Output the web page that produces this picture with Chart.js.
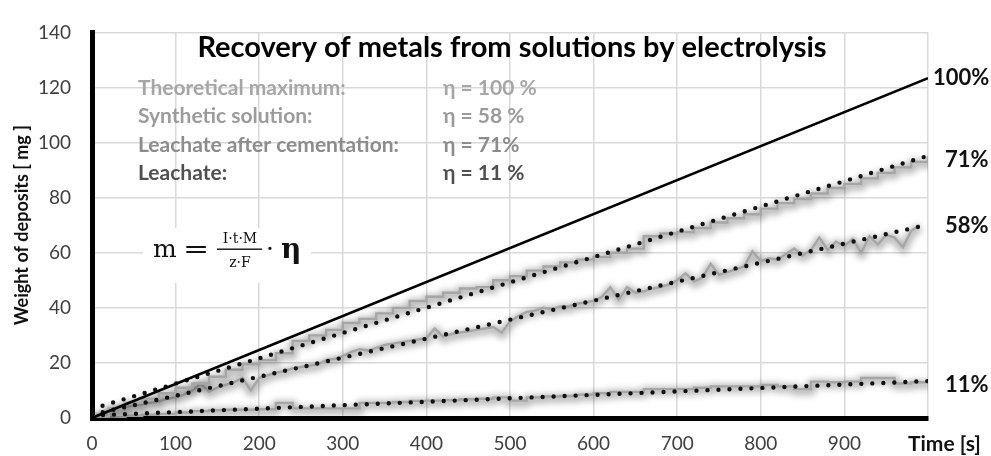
<!doctype html>
<html lang="en">
<head>
  <meta charset="utf-8">
  <title>Recovery of metals from solutions by electrolysis</title>
  <script src="https://cdn.jsdelivr.net/npm/chart.js"></script>
  <style>
    body { margin: 0; background: #fff; }
    #wrap { width: 991px; height: 456px; position: relative; }
  </style>
</head>
<body>
<div id="wrap"><canvas id="recoveryChart"></canvas></div>
<script>
  // time [s]
  var timeCoarse = [0,20,40,60,80,100,120,140,160,180,200,220,240,260,280,300,320,340,360,380,
    400,420,440,460,480,500,520,540,560,580,600,620,640,660,680,700,720,740,760,780,
    800,820,840,860,880,900,920,940,960,980,1000];
  var timeFine = [0,10,20,30,40,50,60,70,80,90,100,110,120,130,140,150,160,170,180,190,
    200,210,220,230,240,250,260,270,280,290,300,310,320,330,340,350,360,370,380,390,
    400,410,420,430,440,450,460,470,480,490,500,510,520,530,540,550,560,570,580,590,
    600,610,620,630,640,650,660,670,680,690,700,710,720,730,740,750,760,770,780,790,
    800,810,820,830,840,850,860,870,880,890,900,910,920,930,940,950,960,970,980,990];

  // measured weight of deposits [mg]
  var cementationMass = [0.5,3.5,5.5,7,9,11,12.5,15,17.5,19.5,21,23.5,28,30,32,34.5,36,38,40,42.5,
    44,45.5,47,47.5,50,51.5,53.5,55,56.5,57.5,58.5,60,61.5,66,67,67.5,69,71,72.5,74,
    76,78,79.5,81.5,83.5,85,87,89,91,93,95];
  var syntheticMass = [0,1.5,2.5,3.5,4,4.5,5,5.5,6,7,
    7.5,8.5,10,12.5,9.5,11,12,13,14.5,10,
    14.5,15.5,16.5,17,18,18.5,19,19.5,21,21.5,
    22.5,24,25,24.5,25.5,26.5,27,27.5,28,28.5,
    29,32.5,29.5,30.5,31,31.5,32,32.5,33,31,
    35,37,38.5,39,40,39.5,40.5,40.5,41.5,42,
    42.5,44,47.5,43,47.5,45.5,46,47,47.5,48.5,
    50,52.5,49.5,51,56,52,53,54,55,60.5,
    57,58,57.5,59.5,61.5,59,61,65.5,61,64,
    62.5,65,60,66,63,66.5,65.5,62,68,70];
  var leachateMass = [0,0.3,0.8,1.2,1.5,2,2.5,2.8,3,3,
    3.2,5.5,3.5,3.5,3.5,3.5,5.5,5.5,5.8,6.2,
    6.3,6.5,6.8,7,7.5,6.3,7.5,7.8,8,8.5,
    9,9.5,9.5,10.5,10.5,10.5,11,11.5,11.5,11.5,
    12,11.5,10.5,13.2,13,13.2,14.5,14.5,12.5,13,
    13.4];

  // linear trends
  var trendTime = [0, 1000];
  var theoreticalMass = [0, 123.4];
  var cementationTrend = [3.3, 95.2];
  var syntheticTrend = [1.2, 70.2];
  var leachateTrend = [0.9, 13.4];

  var yTicks = [0,20,40,60,80,100,120,140];
  var xTicks = [0,100,200,300,400,500,600,700,800,900,1000];
  var xTickLabels = ['0','100','200','300','400','500','600','700','800','900','Time [s]'];

  var legendNames = ['Theoretical maximum:', 'Synthetic solution:', 'Leachate after cementation:', 'Leachate:'];
  var legendEta = ['η = 100 %', 'η = 58 %', 'η = 71%', 'η = 11 %'];
  var endLabels = ['100%', '71%', '58%', '11%'];
  var endValues = [123.4, 95.2, 70.2, 13.4];

  function pts(xs, ys) {
    return ys.map(function (v, i) { return { x: xs[i], y: v }; });
  }

  var LATO = 'Lato, "Open Sans", sans-serif';

  // soft grey halo under the measured curves
  const glowPlugin = {
    id: 'glow',
    beforeDatasetDraw(chart, args) {
      const ds = chart.data.datasets[args.index];
      if (!ds.glow) return;
      const ctx = chart.ctx;
      const area = chart.chartArea;
      const points = args.meta.data;
      ctx.save();
      ctx.beginPath();
      ctx.rect(area.left, area.top, area.right - area.left, area.bottom - area.top);
      ctx.clip();
      ctx.filter = 'blur(3px)';
      ctx.translate(0.5, 2);
      ctx.beginPath();
      points.forEach(function (p, i) {
        if (i === 0) { ctx.moveTo(p.x, p.y); return; }
        if (ds.stepped) ctx.lineTo(p.x, points[i - 1].y);
        ctx.lineTo(p.x, p.y);
      });
      ctx.lineWidth = 9;
      ctx.lineJoin = 'round';
      ctx.strokeStyle = 'rgba(0,0,0,0.26)';
      ctx.stroke();
      ctx.restore();
    }
  };

  const overlayPlugin = {
    id: 'overlay',
    beforeDatasetsDraw(chart) {
      const ctx = chart.ctx;
      ctx.save();
      // formula box
      ctx.fillStyle = '#fff';
      ctx.fillRect(143, 228, 168, 55);
      ctx.fillStyle = '#111';
      ctx.textBaseline = 'alphabetic';
      ctx.textAlign = 'left';
      ctx.font = '25px "DejaVu Serif"';
      ctx.fillText('m', 153, 257);
      ctx.save();
      ctx.translate(183, 257);
      ctx.scale(1.25, 1);
      ctx.fillText('=', 0, 0);
      ctx.restore();
      ctx.font = '14px "DejaVu Serif"';
      ctx.textAlign = 'center';
      ctx.fillText('I·t·M', 240, 243);
      ctx.fillText('z·F', 240, 267);
      ctx.fillRect(217, 248.5, 45, 1.4);
      ctx.textAlign = 'left';
      ctx.font = '25px "DejaVu Serif"';
      ctx.fillText('·', 266, 257);
      ctx.font = 'bold 28px "DejaVu Serif"';
      ctx.fillText('η', 281, 258);
      ctx.restore();
    },
    afterDraw(chart) {
      const ctx = chart.ctx;
      const area = chart.chartArea;
      const y = chart.scales.y;
      ctx.save();
      ctx.textBaseline = 'middle';
      ctx.fillStyle = '#000';
      ctx.textAlign = 'center';
      ctx.font = 'bold 29px ' + LATO;
      ctx.fillText('Recovery of metals from solutions by electrolysis', (area.left + area.right) / 2 + 2, 48);

      var rowColors = ['#a6a6a6', '#9b9b9b', '#8c8c8c', '#505050'];
      ctx.textAlign = 'left';
      ctx.font = 'bold 21px ' + LATO;
      legendNames.forEach(function (name, i) {
        ctx.fillStyle = rowColors[i];
        var ry = 88 + i * 28.5;
        ctx.fillText(name, 138, ry);
        ctx.fillText(legendEta[i], 443, ry);
      });

      ctx.fillStyle = '#111';
      ctx.font = 'bold 22px ' + LATO;
      var dy = [0, 4, 1, 4];
      endLabels.forEach(function (lab, i) {
        var lx = i === 0 ? area.right + 5 : area.right + 17;
        ctx.fillText(lab, lx, y.getPixelForValue(endValues[i]) + dy[i]);
      });

      ctx.font = 'bold 21px ' + LATO;
      ctx.fillStyle = '#111';
      ctx.fillText(xTickLabels[xTickLabels.length - 1], area.right - 20, 444);
      ctx.restore();
    }
  };

  const data = {
    datasets: [
      {
        label: 'Theoretical maximum',
        data: pts(trendTime, theoreticalMass),
        borderColor: '#000',
        borderWidth: 2.6,
        pointRadius: 0,
        order: 1
      },
      {
        label: 'Leachate after cementation trend',
        data: pts(trendTime, cementationTrend),
        borderColor: '#111',
        borderWidth: 4.4,
        borderDash: [0, 11],
        borderCapStyle: 'round',
        pointRadius: 0,
        order: 2
      },
      {
        label: 'Synthetic solution trend',
        data: pts(trendTime, syntheticTrend),
        borderColor: '#111',
        borderWidth: 4.4,
        borderDash: [0, 11],
        borderCapStyle: 'round',
        pointRadius: 0,
        order: 2
      },
      {
        label: 'Leachate trend',
        data: pts(trendTime, leachateTrend),
        borderColor: '#111',
        borderWidth: 4.4,
        borderDash: [0, 11],
        borderCapStyle: 'round',
        pointRadius: 0,
        order: 2
      },
      {
        label: 'Leachate after cementation',
        data: pts(timeCoarse, cementationMass),
        borderColor: '#a6a6a6',
        borderWidth: 2.4,
        stepped: true,
        pointRadius: 0,
        glow: true,
        order: 3
      },
      {
        label: 'Synthetic solution',
        data: pts(timeFine, syntheticMass),
        borderColor: '#a6a6a6',
        borderWidth: 2.4,
        pointRadius: 0,
        glow: true,
        order: 3
      },
      {
        label: 'Leachate',
        data: pts(timeCoarse, leachateMass),
        borderColor: '#a6a6a6',
        borderWidth: 2.4,
        stepped: true,
        pointRadius: 0,
        glow: true,
        order: 3
      }
    ]
  };

  const config = {
    type: 'line',
    data: data,
    options: {
      responsive: true,
      maintainAspectRatio: false,
      animation: false,
      layout: { padding: { top: 21, right: 63, left: 0, bottom: 0 } },
      plugins: {
        legend: { display: false },
        tooltip: { enabled: false },
        title: { display: false }
      },
      scales: {
        x: {
          type: 'linear',
          min: 0,
          max: 1000,
          afterBuildTicks: function (s) { s.ticks = xTicks.map(function (v) { return { value: v }; }); },
          afterFit: function (s) { s.height = 38; },
          grid: { color: '#d9d9d9', lineWidth: 1.5, drawTicks: false },
          border: { color: '#000', width: 5 },
          ticks: {
            padding: 14,
            color: '#404040',
            font: { family: LATO, size: 19 },
            maxRotation: 0,
            autoSkip: false,
            callback: function (v) {
              var i = xTicks.indexOf(v);
              return i === xTicks.length - 1 ? '' : xTickLabels[i];
            }
          }
        },
        y: {
          min: 0,
          max: 140,
          afterBuildTicks: function (s) { s.ticks = yTicks.map(function (v) { return { value: v }; }); },
          afterFit: function (s) { s.width = 92; },
          grid: { color: '#d9d9d9', lineWidth: 1.5, drawTicks: false },
          border: { color: '#000', width: 5 },
          ticks: {
            padding: 21,
            color: '#404040',
            font: { family: LATO, size: 19 }
          },
          title: {
            display: true,
            text: 'Weight of deposits [ mg ]',
            color: '#111',
            font: { family: LATO, size: 18, weight: 'bold' },
            padding: { top: 11, bottom: 0 }
          }
        }
      }
    },
    plugins: [glowPlugin, overlayPlugin]
  };

  const recoveryChart = new Chart(document.getElementById('recoveryChart'), config);
</script>
</body>
</html>
